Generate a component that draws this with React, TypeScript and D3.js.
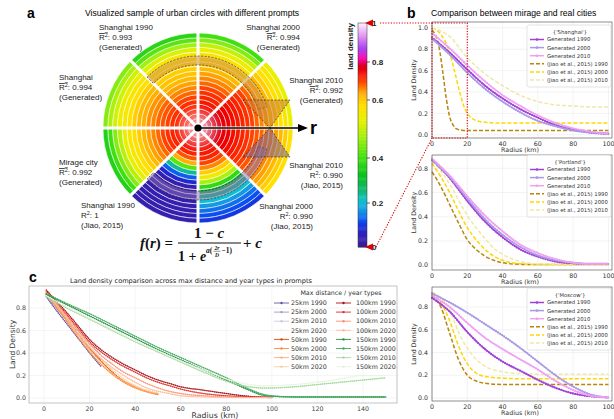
import * as React from 'react';
import * as d3 from 'd3';

type Pt = [number, number];

// ---------------- colour map (land density) ----------------
const densityStops = [0, 0.05, 0.09, 0.12, 0.16, 0.21, 0.27, 0.32, 0.4, 0.47, 0.53, 0.58, 0.63, 0.67, 0.71, 0.75, 0.78, 0.82, 0.87, 0.93, 1];
const densityColors = ['#3a1a98', '#3420b4', '#1a2ad8', '#0a50f0', '#1590e8', '#10c0d0', '#10b860', '#08c020', '#40e010', '#a0f010', '#e8f000', '#ffe000', '#ffb000', '#ff7800', '#ff3000', '#f00000', '#d8001a', '#ff00b0', '#a030f0', '#e090f0', '#fff0ff'];
const colorbarTicks = [0, 0.2, 0.4, 0.6, 0.8, 1];
const colorbarTickLabels = ['0', '0.2', '0.4', '0.6', '0.8', '1'];
const colorbarTickY = [247, 203, 158, 100, 62, 23];

// ---------------- panel a: sectors (clockwise from 12 o'clock), ring densities centre -> edge ----------------
const sectorNames = ['Shanghai 2000', 'Shanghai 2010', 'Shanghai 2010', 'Shanghai 2000', 'Shanghai 1990', 'Mirage city', 'Shanghai', 'Shanghai 1990'];
const sectorR2 = ['0.994', '0.992', '0.990', '0.990', '1', '0.992', '0.994', '0.993'];
const sectorSource = ['(Generated)', '(Generated)', '(Jiao, 2015)', '(Jiao, 2015)', '(Jiao, 2015)', '(Generated)', '(Generated)', '(Generated)'];
const ringsSh2000Gen = [0.78, 0.77, 0.76, 0.75, 0.74, 0.73, 0.72, 0.71, 0.7, 0.68, 0.66, 0.64, 0.62, 0.6, 0.59, 0.57, 0.54, 0.5, 0.45, 0.4];
const ringsSh2010Gen = [0.79, 0.79, 0.78, 0.78, 0.77, 0.76, 0.75, 0.74, 0.73, 0.72, 0.71, 0.7, 0.68, 0.66, 0.64, 0.62, 0.6, 0.58, 0.56, 0.53];
const ringsSh2010Jiao = [0.79, 0.79, 0.78, 0.78, 0.77, 0.76, 0.75, 0.74, 0.73, 0.72, 0.71, 0.7, 0.69, 0.68, 0.67, 0.66, 0.64, 0.62, 0.6, 0.58];
const ringsSh2000Jiao = [0.78, 0.77, 0.76, 0.75, 0.74, 0.73, 0.72, 0.7, 0.66, 0.6, 0.55, 0.48, 0.38, 0.3, 0.25, 0.21, 0.17, 0.14, 0.12, 0.1];
const ringsSh1990Jiao = [0.78, 0.77, 0.76, 0.75, 0.74, 0.72, 0.69, 0.63, 0.42, 0.24, 0.13, 0.08, 0.04, 0.04, 0.04, 0.04, 0.04, 0.04, 0.04, 0.04];
const ringsMirage = [0.77, 0.76, 0.75, 0.74, 0.73, 0.72, 0.71, 0.7, 0.68, 0.66, 0.64, 0.62, 0.6, 0.58, 0.56, 0.53, 0.49, 0.45, 0.4, 0.36];
const ringsShGen = [0.76, 0.75, 0.74, 0.73, 0.72, 0.71, 0.7, 0.69, 0.68, 0.66, 0.65, 0.63, 0.62, 0.6, 0.58, 0.56, 0.54, 0.51, 0.48, 0.45];
const ringsSh1990Gen = [0.76, 0.75, 0.74, 0.73, 0.72, 0.71, 0.7, 0.68, 0.66, 0.64, 0.62, 0.61, 0.6, 0.59, 0.58, 0.56, 0.52, 0.47, 0.42, 0.37];
const sectorRings = [ringsSh2000Gen, ringsSh2010Gen, ringsSh2010Jiao, ringsSh2000Jiao, ringsSh1990Jiao, ringsMirage, ringsShGen, ringsSh1990Gen];

// ---------------- panel b: density profiles [radius km, density] ----------------
const bLegendLabels = ['Generated 1990', 'Generated 2000', 'Generated 2010', '(Jiao et al., 2015) 1990', '(Jiao et al., 2015) 2000', '(Jiao et al., 2015) 2010'];
const bColors = ['#a040d8', '#a898e8', '#f0a0f0', '#b8860b', '#ffd700', '#eee8aa'];
const bTicksX = [0, 20, 40, 60, 80, 100];

const shGen1990: Pt[] = [[0, 0.91], [10, 0.77], [20, 0.61], [30, 0.46], [40, 0.34], [50, 0.24], [60, 0.16], [70, 0.09], [80, 0.05], [90, 0.02], [100, 0.01]];
const shGen2000: Pt[] = [[0, 0.9], [10, 0.75], [20, 0.58], [30, 0.43], [40, 0.31], [50, 0.21], [60, 0.13], [70, 0.08], [80, 0.04], [90, 0.02], [100, 0.01]];
const shGen2010: Pt[] = [[0, 0.95], [10, 0.81], [20, 0.65], [30, 0.5], [40, 0.37], [50, 0.27], [60, 0.18], [70, 0.11], [80, 0.06], [90, 0.03], [100, 0.01]];
const shJiao1990: Pt[] = [[0, 0.98], [2, 0.93], [4, 0.82], [6, 0.6], [8, 0.35], [10, 0.17], [12, 0.09], [14, 0.055], [17, 0.043], [20, 0.04], [40, 0.04], [100, 0.04]];
const shJiao2000: Pt[] = [[0, 1.0], [5, 0.94], [10, 0.77], [13, 0.58], [16, 0.38], [18, 0.27], [20, 0.2], [23, 0.15], [27, 0.125], [32, 0.115], [40, 0.11], [100, 0.11]];
const shJiao2010: Pt[] = [[0, 1.0], [10, 0.92], [20, 0.72], [30, 0.57], [40, 0.46], [50, 0.37], [60, 0.31], [70, 0.28], [80, 0.27], [90, 0.26], [100, 0.26]];

const ptGen1990: Pt[] = [[0, 0.87], [10, 0.72], [20, 0.53], [30, 0.36], [40, 0.23], [50, 0.13], [60, 0.07], [70, 0.03], [80, 0.015], [90, 0.01], [100, 0.01]];
const ptGen2000: Pt[] = [[0, 0.87], [10, 0.73], [20, 0.55], [30, 0.38], [40, 0.25], [50, 0.15], [60, 0.08], [70, 0.04], [80, 0.02], [90, 0.01], [100, 0.01]];
const ptGen2010: Pt[] = [[0, 0.88], [10, 0.74], [20, 0.57], [30, 0.41], [40, 0.28], [50, 0.17], [60, 0.1], [70, 0.05], [80, 0.02], [90, 0.01], [100, 0.01]];
const ptJiao1990: Pt[] = [[0, 0.77], [5, 0.65], [10, 0.5], [15, 0.35], [20, 0.21], [25, 0.13], [30, 0.075], [35, 0.04], [40, 0.02], [50, 0.007], [60, 0.005], [100, 0.005]];
const ptJiao2000: Pt[] = [[0, 0.84], [5, 0.73], [10, 0.6], [15, 0.45], [20, 0.31], [25, 0.21], [30, 0.13], [35, 0.075], [40, 0.04], [50, 0.012], [60, 0.006], [100, 0.005]];
const ptJiao2010: Pt[] = [[0, 0.86], [5, 0.78], [10, 0.67], [15, 0.54], [20, 0.41], [25, 0.31], [30, 0.22], [35, 0.14], [40, 0.09], [50, 0.03], [60, 0.012], [70, 0.008], [100, 0.008]];

const mwGen1990: Pt[] = [[0, 0.88], [10, 0.76], [20, 0.58], [30, 0.43], [40, 0.32], [50, 0.24], [60, 0.16], [70, 0.09], [80, 0.04], [90, 0.015], [100, 0.005]];
const mwGen2000: Pt[] = [[0, 0.92], [10, 0.84], [20, 0.75], [30, 0.65], [40, 0.55], [50, 0.44], [60, 0.32], [70, 0.2], [80, 0.1], [90, 0.03], [100, 0.005]];
const mwGen2010: Pt[] = [[0, 0.9], [10, 0.8], [20, 0.66], [30, 0.53], [40, 0.43], [50, 0.34], [60, 0.25], [70, 0.15], [80, 0.07], [90, 0.02], [100, 0.005]];
const mwJiao1990: Pt[] = [[0, 0.9], [5, 0.8], [10, 0.57], [15, 0.34], [20, 0.2], [25, 0.15], [30, 0.13], [40, 0.12], [100, 0.12]];
const mwJiao2000: Pt[] = [[0, 0.92], [5, 0.84], [10, 0.68], [15, 0.46], [20, 0.3], [25, 0.22], [30, 0.19], [40, 0.175], [50, 0.17], [100, 0.17]];
const mwJiao2010: Pt[] = [[0, 0.93], [5, 0.88], [10, 0.78], [15, 0.58], [20, 0.44], [25, 0.34], [30, 0.28], [40, 0.23], [50, 0.215], [60, 0.21], [100, 0.21]];

// ---------------- panel c: max distance x year type ----------------
const maxDistances = ['25km', '50km', '100km', '150km'];
const yearTypes = ['1990', '2000', '2010', '2020'];
const cColors = [
  ['#6a51a3', '#9e9ac8', '#cbc9e2', '#efedf5'],
  ['#d94801', '#fd8d3c', '#fdae6b', '#fdd0a2'],
  ['#a50f15', '#de2d26', '#fc9272', '#fcbba1'],
  ['#238b45', '#41ab5d', '#a1d99b', '#e5f5e0'],
];
const c25R = [1, 5, 10, 15, 20, 25];
const c25V = [
  [0.9, 0.79, 0.66, 0.53, 0.4, 0.28],
  [0.91, 0.81, 0.69, 0.57, 0.45, 0.33],
  [0.92, 0.82, 0.71, 0.6, 0.49, 0.38],
  [0.93, 0.84, 0.74, 0.63, 0.53, 0.43],
];
const c50R = [1, 5, 10, 15, 20, 25, 30, 35, 40, 45, 50];
const c50V = [
  [0.93, 0.84, 0.71, 0.57, 0.44, 0.33, 0.23, 0.15, 0.1, 0.06, 0.035],
  [0.92, 0.82, 0.68, 0.54, 0.41, 0.3, 0.21, 0.14, 0.09, 0.055, 0.03],
  [0.93, 0.83, 0.7, 0.56, 0.43, 0.32, 0.22, 0.15, 0.1, 0.06, 0.04],
  [0.94, 0.85, 0.72, 0.59, 0.46, 0.35, 0.25, 0.17, 0.11, 0.07, 0.045],
];
const c100R = [1, 5, 10, 15, 20, 25, 30, 35, 40, 45, 50, 55, 60, 70, 80, 90, 100];
const c100V = [
  [0.96, 0.87, 0.76, 0.64, 0.52, 0.43, 0.36, 0.3, 0.25, 0.2, 0.16, 0.13, 0.1, 0.07, 0.04, 0.015, 0.005],
  [0.95, 0.86, 0.74, 0.62, 0.5, 0.41, 0.34, 0.28, 0.23, 0.18, 0.14, 0.11, 0.08, 0.04, 0.02, 0.01, 0.005],
  [0.94, 0.85, 0.73, 0.6, 0.48, 0.38, 0.3, 0.23, 0.18, 0.13, 0.09, 0.06, 0.04, 0.02, 0.01, 0.005, 0.005],
  [0.93, 0.84, 0.71, 0.57, 0.45, 0.35, 0.27, 0.2, 0.14, 0.09, 0.06, 0.04, 0.02, 0.01, 0.005, 0.005, 0.005],
];
const c150R = [1, 10, 20, 30, 40, 50, 60, 70, 80, 90, 95, 100, 110, 120, 130, 140, 150];
const c150V = [
  [0.92, 0.83, 0.73, 0.63, 0.53, 0.43, 0.34, 0.25, 0.16, 0.07, 0.03, 0.015, 0.01, 0.01, 0.01, 0.01, 0.01],
  [0.93, 0.84, 0.75, 0.65, 0.55, 0.45, 0.36, 0.27, 0.18, 0.08, 0.04, 0.02, 0.01, 0.01, 0.01, 0.01, 0.01],
  [0.9, 0.8, 0.7, 0.6, 0.5, 0.41, 0.32, 0.23, 0.15, 0.1, 0.09, 0.09, 0.1, 0.12, 0.14, 0.16, 0.18],
  [0.91, 0.81, 0.71, 0.61, 0.51, 0.42, 0.33, 0.25, 0.17, 0.12, 0.11, 0.11, 0.12, 0.14, 0.17, 0.2, 0.2],
];
const cTicksX = [0, 20, 40, 60, 80, 100, 120, 140];
const cTicksY = [0, 0.2, 0.4, 0.6, 0.8];

const SANS = 'Liberation Sans, Arial, sans-serif';
const DEJA = 'DejaVu Sans, sans-serif';
const SERIF = 'Liberation Serif, Times New Roman, serif';

const cmap = d3.scaleLinear<string>().domain(densityStops).range(densityColors).interpolate(d3.interpolateRgb).clamp(true);

// ---------------- panel a ----------------
const CX = 198, CY = 128, R = 95;
const labelPos = [
  { x: 300, y: 30, a: 'end' },
  { x: 343, y: 83, a: 'end' },
  { x: 343, y: 168, a: 'end' },
  { x: 313, y: 209, a: 'end' },
  { x: 81, y: 208, a: 'start' },
  { x: 59, y: 165, a: 'start' },
  { x: 59, y: 80, a: 'start' },
  { x: 99, y: 30, a: 'start' },
];

function PanelA() {
  const arc = d3.arc<any>();
  const nR = ringsSh2000Gen.length;
  const rw = R / nR;
  const deg = Math.PI / 180;
  const cbY = d3.scaleLinear().domain(colorbarTicks).range(colorbarTickY);
  const slices = d3.range(0, 1, 0.005);
  const topBand = arc({ innerRadius: 63, outerRadius: 72, startAngle: -45 * deg, endAngle: 73 * deg });
  const botBand = arc({ innerRadius: 63, outerRadius: 72, startAngle: 107 * deg, endAngle: 225 * deg });
  return (
    <g>
      <defs>
        <radialGradient id="ctrGlow">
          <stop offset="0" stopColor="#fff" stopOpacity={0.8} />
          <stop offset="1" stopColor="#fff" stopOpacity={0} />
        </radialGradient>
      </defs>
      <text x={27} y={18} fontFamily={SANS} fontWeight="bold" fontSize={14}>a</text>
      <text x={85} y={16} fontFamily={SANS} fontSize={8.6}>Visualized sample of urban circles with different prompts</text>
      <g transform={`translate(${CX},${CY})`}>
        {sectorRings.map((rings, si) =>
          rings.map((v, ri) => (
            <path key={`${si}-${ri}`}
              d={arc({ innerRadius: ri * rw, outerRadius: (ri + 1) * rw, startAngle: si * 45 * deg, endAngle: (si + 1) * 45 * deg }) as string}
              fill={cmap(v)} stroke="#fff" strokeWidth={0.55} />
          ))
        )}
        <circle r={24} fill="url(#ctrGlow)" />
        {d3.range(8).map(i => (
          <line key={i} x1={0} y1={0} x2={Math.sin(i * 45 * deg) * (R + 2)} y2={-Math.cos(i * 45 * deg) * (R + 2)} stroke="#fff" strokeWidth={3} />
        ))}
        <path d={topBand as string} fill="#d49a40" fillOpacity={0.6} stroke="#222" strokeWidth={0.6} strokeDasharray="2,1.5" />
        <path d={botBand as string} fill="#8a70b0" fillOpacity={0.5} stroke="#222" strokeWidth={0.6} strokeDasharray="2,1.5" />
      </g>
      <polygon points="243,100 290,100 270,128" fill="#c87a30" fillOpacity={0.55} stroke="#222" strokeWidth={0.6} strokeDasharray="2,1.5" />
      <polygon points="243,157 290,157 270,128" fill="#7a6090" fillOpacity={0.55} stroke="#222" strokeWidth={0.6} strokeDasharray="2,1.5" />
      <line x1={CX} y1={CY} x2={300} y2={CY} stroke="#000" strokeWidth={1.6} />
      <polygon points={`298,${CY - 4} 308,${CY} 298,${CY + 4}`} fill="#000" />
      <circle cx={CX} cy={CY} r={3.6} fill="#000" />
      <text x={310} y={CY + 6} fontFamily={SANS} fontWeight="bold" fontSize={18}>r</text>

      {sectorNames.map((n, i) => {
        const p = labelPos[i];
        const gen = sectorSource[i] === '(Generated)';
        return (
          <g key={i} fontFamily={SANS} fontSize={8} fill="#222" textAnchor={p.a as any}>
            <text x={p.x} y={p.y}>{n}</text>
            <text x={p.x} y={p.y + 10.2}>
              <tspan textDecoration={gen ? 'overline' : undefined}>R</tspan>
              <tspan dy={-3} fontSize={5.5} textDecoration={gen ? 'overline' : undefined}>2</tspan>
              <tspan dy={3}>{`: ${sectorR2[i]}`}</tspan>
            </text>
            <text x={p.x} y={p.y + 20.4}>{sectorSource[i]}</text>
          </g>
        );
      })}

      {/* formula */}
      <g fontFamily={SERIF} fontWeight="bold" fill="#111">
        <text x={140} y={248} fontSize={15}><tspan fontStyle="italic">f</tspan>(<tspan fontStyle="italic">r</tspan>) =</text>
        <text x={209} y={238} fontSize={15} textAnchor="middle">1 − <tspan fontStyle="italic">c</tspan></text>
        <line x1={178} x2={241} y1={243} y2={243} stroke="#111" strokeWidth={1.1} />
        <text x={178} y={261} fontSize={14}>1 + <tspan fontStyle="italic">e</tspan></text>
        <text x={206} y={253} fontSize={7.5}><tspan fontStyle="italic">a</tspan>(</text>
        <text x={217} y={250} fontSize={5.5} textAnchor="middle" fontStyle="italic">2r</text>
        <line x1={213.5} x2={220.5} y1={251.3} y2={251.3} stroke="#111" strokeWidth={0.45} />
        <text x={217} y={256.5} fontSize={5.5} textAnchor="middle" fontStyle="italic">D</text>
        <text x={221.5} y={253} fontSize={7.5}>−1)</text>
        <text x={243} y={248} fontSize={15}>+ <tspan fontStyle="italic">c</tspan></text>
      </g>

      {/* colour bar */}
      <g>
        {slices.map((v, i) => (
          <rect key={i} x={358} width={9} y={cbY(v + 0.005)} height={cbY(v) - cbY(v + 0.005) + 0.4} fill={cmap(v + 0.0025)} />
        ))}
        <rect x={358} y={23} width={9} height={224} fill="none" stroke="#333" strokeWidth={0.5} />
        {colorbarTicks.map((t, i) => (
          <g key={i}>
            <line x1={367} x2={370} y1={cbY(t)} y2={cbY(t)} stroke="#222" strokeWidth={0.7} />
            <text x={372} y={cbY(t) + 3} fontFamily={SANS} fontWeight="bold" fontSize={8} fill="#222">{colorbarTickLabels[i]}</text>
          </g>
        ))}
        <text transform="translate(353,23) rotate(-90)" textAnchor="end" fontFamily={SANS} fontWeight="bold" fontSize={8} fill="#222">land density</text>
        <polygon points="365,23 373,19.5 373,26.5" fill="#e00000" />
        <polygon points="365,247 373,243.5 373,250.5" fill="#e00000" />
        <line x1={380} x2={432} y1={23} y2={23} stroke="#e00000" strokeWidth={1.1} strokeDasharray="1.2,1.5" />
        <line x1={376} y1={247} x2={432} y2={138} stroke="#e00000" strokeWidth={1.1} strokeDasharray="1.2,1.5" />
      </g>
    </g>
  );
}

// ---------------- panel b ----------------
function BChart(props: { top: number; bottom: number; yMin: number; yMax: number; yTicks: number[]; title: string; series: Pt[][]; legendTop: number; zoomRect?: boolean }) {
  const { top, bottom, yMin, yMax, yTicks, title, series, legendTop, zoomRect } = props;
  const x = d3.scaleLinear().domain([0, 102]).range([432, 612]);
  const y = d3.scaleLinear().domain([yMin, yMax]).range([bottom, top]);
  const line = d3.line<Pt>().x(d => x(d[0])).y(d => y(d[1])).curve(d3.curveMonotoneX);
  const order = [3, 4, 5, 0, 1, 2];
  return (
    <g fontFamily={DEJA}>
      <rect x={432} y={top} width={180} height={bottom - top} fill="#fff" />
      {bTicksX.map(t => <line key={t} x1={x(t)} x2={x(t)} y1={top} y2={bottom} stroke="#ebebeb" strokeWidth={0.6} />)}
      {yTicks.map(t => <line key={t} x1={432} x2={612} y1={y(t)} y2={y(t)} stroke="#ebebeb" strokeWidth={0.6} />)}
      {order.map(i => {
        const gen = i < 3;
        const d = line(series[i]) as string;
        return (
          <g key={i}>
            <path d={d} fill="none" stroke={bColors[i]} strokeWidth={gen ? 1.4 : 1.5} strokeDasharray={gen ? undefined : '4,2'} strokeOpacity={gen ? 0.85 : 1} />
            {gen && <path d={d} fill="none" stroke={bColors[i]} strokeWidth={2.2} strokeDasharray="0,2.4" strokeLinecap="round" />}
          </g>
        );
      })}
      <rect x={432} y={top} width={180} height={bottom - top} fill="none" stroke="#444" strokeWidth={0.6} />
      {yTicks.map(t => (
        <text key={t} x={428} y={y(t) + 2.2} textAnchor="end" fontSize={6.3} fill="#333">{t.toFixed(1)}</text>
      ))}
      {bTicksX.map(t => (
        <text key={t} x={x(t)} y={bottom + 7.5} textAnchor="middle" fontSize={6.3} fill="#333">{t}</text>
      ))}
      <text x={520} y={bottom + 14} textAnchor="middle" fontSize={6.3} fill="#333">Radius (km)</text>
      <text transform={`translate(416,${(top + bottom) / 2}) rotate(-90)`} textAnchor="middle" fontSize={6.3} fill="#333">Land Density</text>
      {zoomRect && (
        <rect x={x(0)} y={top + 1} width={x(20) - x(0)} height={bottom - top - 1} fill="none" stroke="#e00000" strokeWidth={1.1} strokeDasharray="1.2,1.5" />
      )}
      <g>
        <rect x={527} y={legendTop} width={84} height={62} rx={2} fill="#fff" fillOpacity={0.85} stroke="#d0d0d0" strokeWidth={0.6} />
        <text x={570} y={legendTop + 9} textAnchor="middle" fontSize={5.3} fill="#333">{title}</text>
        {bLegendLabels.map((lab, i) => {
          const yy = legendTop + 14.5 + i * 8.1;
          const gen = i < 3;
          return (
            <g key={i}>
              <line x1={530} x2={544} y1={yy} y2={yy} stroke={bColors[i]} strokeWidth={1.5} strokeDasharray={gen ? undefined : '4,2'} />
              {gen && <circle cx={537} cy={yy} r={1.3} fill={bColors[i]} />}
              <text x={547} y={yy + 1.9} fontSize={5.3} fill="#333">{lab}</text>
            </g>
          );
        })}
      </g>
    </g>
  );
}

function PanelB() {
  return (
    <g>
      <text x={407} y={18} fontFamily={SANS} fontWeight="bold" fontSize={14}>b</text>
      <text x={431} y={16} fontFamily={SANS} fontSize={8.6}>Comparison between mirage and real cities</text>
      <BChart top={22} bottom={138} yMin={-0.03} yMax={1.055} yTicks={[0, 0.2, 0.4, 0.6, 0.8, 1.0]} title="{'Shanghai'}"
        series={[shGen1990, shGen2000, shGen2010, shJiao1990, shJiao2000, shJiao2010]} legendTop={25} zoomRect />
      <BChart top={155} bottom={270} yMin={-0.04} yMax={0.91} yTicks={[0, 0.2, 0.4, 0.6, 0.8]} title="{'Portland'}"
        series={[ptGen1990, ptGen2000, ptGen2010, ptJiao1990, ptJiao2000, ptJiao2010]} legendTop={155} />
      <BChart top={287} bottom={401} yMin={-0.026} yMax={0.976} yTicks={[0, 0.2, 0.4, 0.6, 0.8]} title="{'Moscow'}"
        series={[mwGen1990, mwGen2000, mwGen2010, mwJiao1990, mwJiao2000, mwJiao2010]} legendTop={288} />
    </g>
  );
}

// ---------------- panel c ----------------
function PanelC() {
  const left = 29, right = 397, top = 286, bottom = 403;
  const x = d3.scaleLinear().domain([-6.6, 154.9]).range([left, right]);
  const y = d3.scaleLinear().domain([-0.044, 0.996]).range([bottom, top]);
  const line = d3.line<Pt>().x(d => x(d[0])).y(d => y(d[1])).curve(d3.curveMonotoneX);
  const groups: [number[], number[][]][] = [[c25R, c25V], [c50R, c50V], [c100R, c100V], [c150R, c150V]];
  return (
    <g fontFamily={DEJA}>
      <text x={29} y={282} fontFamily={SANS} fontWeight="bold" fontSize={14}>c</text>
      <text x={191} y={283} textAnchor="middle" fontSize={6.6} fill="#222">Land density comparison across max distance and year types in prompts</text>
      {cTicksX.map(t => <line key={t} x1={x(t)} x2={x(t)} y1={top} y2={bottom} stroke="#ececec" strokeWidth={0.6} />)}
      {cTicksY.map(t => <line key={t} x1={left} x2={right} y1={y(t)} y2={y(t)} stroke="#ececec" strokeWidth={0.6} />)}
      {groups.map(([rs, vs], gi) =>
        vs.map((vals, yi) => {
          const d = line(rs.map((r, k) => [r, vals[k]] as Pt)) as string;
          return (
            <g key={`${gi}-${yi}`}>
              <path d={d} fill="none" stroke={cColors[gi][yi]} strokeWidth={0.7} strokeOpacity={0.9} />
              <path d={d} fill="none" stroke={cColors[gi][yi]} strokeWidth={1.5} strokeDasharray="0,2" strokeLinecap="round" />
            </g>
          );
        })
      )}
      <rect x={left} y={top} width={right - left} height={bottom - top} fill="none" stroke="#aaa" strokeWidth={0.7} />
      {cTicksX.map(t => (
        <text key={t} x={x(t)} y={bottom + 8} textAnchor="middle" fontSize={6.3} fill="#444">{t}</text>
      ))}
      {cTicksY.map(t => (
        <text key={t} x={26} y={y(t) + 2.2} textAnchor="end" fontSize={6.3} fill="#444">{t.toFixed(1)}</text>
      ))}
      <text x={215} y={418} textAnchor="middle" fontSize={7.8} fill="#333">Radius (km)</text>
      <text transform={`translate(15,${(top + bottom) / 2}) rotate(-90)`} textAnchor="middle" fontSize={7.5} fill="#333">Land Density</text>
      <text x={341} y={295} textAnchor="middle" fontSize={6.3} fill="#333">Max distance / year types</text>
      {maxDistances.map((md, gi) =>
        yearTypes.map((yt, yi) => {
          const col = gi < 2 ? 0 : 1;
          const row = (gi % 2) * 4 + yi;
          const yy = 303 + row * 9.1;
          const hx = col === 0 ? 274 : 336;
          const tx = col === 0 ? 291 : 356;
          return (
            <g key={`${gi}-${yi}`}>
              <line x1={hx} x2={hx + 15} y1={yy} y2={yy} stroke={cColors[gi][yi]} strokeWidth={0.9} />
              <circle cx={hx + 7.5} cy={yy} r={1.2} fill={cColors[gi][yi]} />
              <text x={tx} y={yy + 2.2} fontSize={6.3} fill="#333">{`${md} ${yt}`}</text>
            </g>
          );
        })
      )}
    </g>
  );
}

export default function App() {
  return (
    <svg width={614} height={419} style={{ position: 'absolute', left: 0, top: 0, background: '#fff' }}>
      <rect width={614} height={419} fill="#fff" />
      <PanelA />
      <PanelB />
      <PanelC />
    </svg>
  );
}
